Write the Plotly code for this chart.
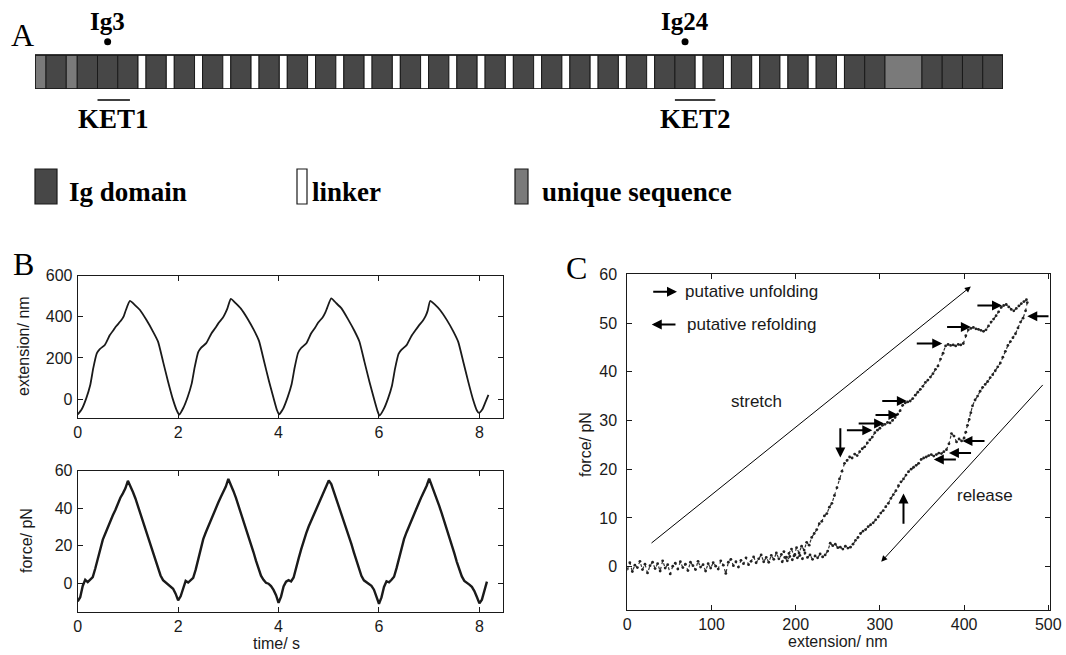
import plotly.graph_objects as go

W, H = 1066, 655

# ---------------- Panel A data ----------------
segments = (['U', 'Ig', 'U', 'Ig', 'Ig', 'Ig'] + ['L', 'Ig'] * 19 + ['Ig'] +
            ['L', 'Ig'] * 6 + ['Ig', 'UB', 'Ig', 'Ig', 'Ig', 'Ig'])
labelled_domains = {3: 'Ig3', 24: 'Ig24'}
fragments = {'KET1': (3, 4), 'KET2': (24, 25)}
legend_items = ['Ig domain', 'linker', 'unique sequence']

# ---------------- Panel B data ----------------
ext_time = [0.00, 0.08, 0.17, 0.25, 0.31, 0.38, 0.44, 0.54, 0.64, 0.72, 0.77, 0.87, 0.92, 0.96, 1.04, 1.14, 1.24, 1.37, 1.50, 1.60, 1.70, 1.80, 1.89, 1.97,
            2.02, 2.10, 2.19, 2.27, 2.33, 2.40, 2.46, 2.56, 2.66, 2.74, 2.80, 2.89, 2.94, 2.98, 3.05, 3.15, 3.25, 3.38, 3.51, 3.61, 3.71, 3.81, 3.90, 3.97,
            4.01, 4.09, 4.18, 4.26, 4.32, 4.39, 4.45, 4.55, 4.65, 4.73, 4.79, 4.88, 4.93, 4.97, 5.05, 5.15, 5.25, 5.38, 5.51, 5.61, 5.71, 5.81, 5.90, 5.97,
            6.01, 6.09, 6.18, 6.26, 6.32, 6.39, 6.45, 6.55, 6.65, 6.73, 6.79, 6.88, 6.93, 6.97, 7.02, 7.12, 7.22, 7.35, 7.48, 7.58, 7.68, 7.78, 7.87, 7.95,
            7.99, 8.06, 8.12, 8.18]
ext_nm = [-75, -50, 3, 68, 150, 222, 243, 263, 311, 338, 355, 384, 405, 433, 477, 457, 433, 384, 328, 279, 182, 84, 3, -54,
          -76, -45, 10, 75, 155, 228, 250, 272, 318, 345, 368, 395, 418, 440, 487, 465, 440, 392, 335, 283, 185, 86, 5, -55,
          -75, -48, 8, 72, 152, 225, 248, 270, 320, 348, 372, 398, 420, 445, 490, 466, 442, 390, 332, 280, 182, 84, 2, -58,
          -81, -52, 2, 66, 148, 220, 240, 262, 308, 336, 356, 383, 404, 430, 477, 458, 432, 385, 329, 277, 180, 82, 0, -56,
          -68, -50, -15, 20]

force_step = 0.05
force_pN = [-9.8, -7.5, -1.5, 1.8, 0.6, 1.9, 3.2, 7.8, 13.5, 18.6, 23.2, 26.5, 30.1, 33.0, 36.2, 39.0, 42.4, 45.6, 47.9, 50.6,
            54.6, 51.8, 48.6, 45.2, 41.0, 37.3, 33.2, 29.1, 25.0, 20.8, 16.1, 11.6, 7.2, 4.1, 1.6, 0.4, -0.6, -1.5, -3.0, -5.6,
            -9.2, -7.0, -2.2, 1.2, 0.3, 1.5, 2.8, 7.2, 13.0, 18.4, 23.5, 27.0, 30.4, 33.6, 36.8, 39.8, 43.0, 46.0, 48.8, 51.5,
            55.6, 52.6, 49.2, 45.6, 41.6, 37.6, 33.8, 29.6, 25.4, 21.0, 16.6, 12.0, 7.5, 4.0, 1.8, 0.2, -0.3, -1.6, -3.6, -6.4,
            -10.5, -7.2, -1.8, 0.8, 1.6, 0.9, 3.0, 7.5, 13.2, 18.0, 22.9, 26.6, 30.2, 33.4, 36.5, 39.6, 42.8, 45.7, 48.4, 51.8,
            54.8, 52.9, 49.0, 45.4, 41.4, 37.5, 33.5, 29.4, 25.2, 20.9, 16.4, 11.8, 7.3, 3.9, 1.5, 0.6, -0.5, -1.4, -3.5, -6.8,
            -11.0, -7.6, -2.0, 1.0, 0.4, 1.8, 3.4, 8.0, 13.6, 18.8, 23.6, 27.2, 30.6, 33.8, 37.0, 40.1, 43.2, 46.3, 49.0, 52.0,
            55.8, 52.4, 48.8, 45.0, 41.2, 37.2, 33.2, 29.0, 24.8, 20.4, 16.0, 11.4, 7.0, 3.6, 1.2, 0.4, -0.8, -2.0, -4.2, -7.4,
            -10.8, -8.8, -4.5, 0.8]
force_time = [round(i * force_step, 2) for i in range(len(force_pN))]

# ---------------- Panel C data ----------------
stretch_x = [0, 3, 6, 9, 12, 15, 18, 21, 24, 27, 30, 33, 36, 39, 42, 45, 48, 51, 54, 57, 60, 63, 66, 69, 72, 75, 78, 81, 84, 87,
             90, 93, 96, 99, 102, 105, 108, 111, 114, 117, 120, 123, 126, 129, 132, 135, 138, 141, 144, 147, 150, 153, 156, 159,
             162, 165, 168, 171, 174, 177, 180, 183, 186, 189, 192, 195, 198, 201, 204, 207, 210, 213, 216, 219, 222, 225, 228,
             231, 234, 237, 240, 243, 246, 249, 252, 255, 258, 261, 264, 267, 270, 273, 276, 279, 282, 285, 288, 291, 294, 297,
             300, 303, 306, 309, 312, 315, 318, 321, 324, 327, 330, 333, 336, 339, 342, 345, 348, 351, 354, 357, 360, 363, 366,
             369, 372, 375, 378, 381, 384, 387, 390, 393, 396, 399, 402, 405, 408, 411, 414, 417, 420, 423, 426, 429, 432, 435,
             438, 441, 444, 447, 450, 453, 456, 459, 462, 465, 468, 471, 474]
stretch_f = [-0.5, 0.8, -1.0, 0.3, -0.2, 1.1, -0.6, 0.5, -1.3, 0.2, 0.9, -0.4, 0.6, -0.9, 1.2, -0.3, 0.4, -1.5, 0.1, 0.7,
             -0.5, 1.0, -0.2, 0.5, -0.8, 0.9, 0.2, -0.6, 1.1, -0.1, 0.4, -0.9, 0.6, -0.3, 0.8, 0.1, -0.5, 1.2, 0.3, -1.4,
             0.9, 1.5, 0.2, 1.0, -0.1, 1.3, 0.6, 1.8, 0.4, 1.1, 2.0, 0.8, 1.6, 2.4, 1.0, 1.9, 0.9, 2.3, 1.5, 2.8,
             1.6, 2.5, 3.1, 1.9, 2.7, 3.6, 2.2, 3.9, 2.8, 4.2, 3.4, 5.0, 4.4, 6.0, 6.8, 7.6, 8.8, 9.3, 10.4, 10.9,
             12.2, 13.0, 14.6, 16.2, 18.0, 19.6, 21.2, 21.8, 22.5, 22.3, 23.1, 22.8, 23.6, 24.2, 24.6, 25.4, 26.0, 26.6, 27.5, 28.0,
             28.4, 29.0, 29.2, 29.6, 29.5, 30.0, 30.6, 31.3, 32.0, 33.1, 33.6, 33.8, 34.0, 34.5, 35.2, 35.8, 36.4, 37.0, 37.8, 38.3,
             38.9, 39.6, 40.5, 41.2, 42.6, 43.8, 45.3, 45.6, 45.4, 45.5, 45.3, 45.6, 45.5, 45.8, 47.4, 48.6, 48.9, 49.1, 48.8, 48.7,
             48.5, 48.3, 48.6, 49.4, 50.2, 50.8, 51.5, 52.3, 53.2, 53.6, 53.8, 53.3, 52.8, 52.5, 53.0, 53.5, 54.0, 54.4, 54.8]
release_x = [475, 473, 470, 467, 464, 461, 458, 455, 452, 449, 446, 443, 440, 437, 434, 431, 428, 425, 422, 419, 416, 413, 410,
             408, 406, 404, 402, 400, 397, 394, 391, 388, 385, 382, 379, 376, 373, 370, 367, 364, 361, 358, 355, 352, 349, 346,
             343, 340, 337, 334, 331, 328, 325, 322, 319, 316, 313, 310, 307, 304, 301, 298, 295, 292, 289, 286, 283, 280, 277,
             274, 271, 268, 265, 262, 259, 256, 253, 250, 247, 244, 241, 238, 235, 232, 229, 226, 223, 220, 217, 214, 211, 208,
             205, 202, 199, 196, 193, 190, 187, 184]
release_f = [54.2, 52.5, 51.0, 50.2, 49.0, 47.8, 47.0, 46.2, 45.4, 44.2, 43.0, 41.8, 41.0, 40.2, 39.4, 38.8, 38.0, 37.4, 36.8,
             36.0, 35.0, 34.2, 33.0, 31.6, 30.2, 29.0, 27.6, 26.4, 25.8, 26.2, 25.6, 26.8, 27.3, 25.2, 24.0, 23.6, 23.2, 23.3,
             23.0, 22.7, 23.0, 22.8, 22.5, 22.3, 22.0, 21.2, 20.8, 20.4, 20.0, 19.5, 18.8, 18.0, 17.4, 16.6, 15.6, 14.8, 14.0,
             13.0, 12.3, 11.5, 11.0, 10.2, 9.6, 9.0, 8.6, 8.2, 7.6, 7.3, 6.8, 6.0, 5.4, 4.6, 4.0, 3.8, 4.2, 3.6, 4.0, 3.9,
             4.6, 4.3, 4.8, 3.2, 2.4, 2.0, 2.6, 1.8, 2.2, 1.5, 2.4, 1.9, 2.8, 1.6, 2.3, 1.8, 2.5, 1.4, 2.1, 1.2, 1.9, 1.0]

# unfolding (right-pointing) and refolding (left-pointing) arrows: (tail_x, head_x, force)
unfold_arrows = [(414, 445, 53.6), (378, 408, 49.2), (342, 374, 45.8), (301, 332, 34.0),
                 (293, 322, 31.1), (273, 305, 29.4), (259, 291, 28.0)]
refold_arrows = [(502, 475, 51.4), (426, 398, 25.8), (410, 382, 23.3), (392, 364, 22.0)]

# ---------------- styles ----------------
seg_width = {'Ig': 20.26, 'L': 8, 'U': 11, 'UB': 37}
seg_color = {'Ig': '#474747', 'L': '#ffffff', 'U': '#7a7a7a', 'UB': '#7a7a7a'}
INK = '#1a1a1a'
SANS = 'Liberation Sans, Arial, sans-serif'
SERIF = 'Liberation Serif, Times New Roman, serif'


def px(p):
    return p / W


def py(p):
    return 1 - p / H


fig = go.Figure()

# ---- Panel A bar ----
starts, widths, colors = [], [], []
pos = 0
ig_pos = {}
ig_count = 0
for s in segments:
    w = seg_width[s]
    starts.append(pos)
    widths.append(w)
    colors.append(seg_color[s])
    if s == 'Ig':
        ig_count += 1
        ig_pos[ig_count] = (pos, pos + w)
    pos += w
total_len = pos

fig.add_trace(go.Bar(x=widths, y=[0] * len(widths), base=starts, orientation='h',
                     marker=dict(color=colors, line=dict(color=INK, width=1)),
                     width=1, xaxis='x4', yaxis='y4', showlegend=False, hoverinfo='skip'))

dot_x = [(ig_pos[k][0] + ig_pos[k][1]) / 2 for k in labelled_domains]
fig.add_trace(go.Scatter(x=dot_x, y=[0.89] * len(dot_x), mode='markers',
                         marker=dict(color='black', size=7), cliponaxis=False,
                         xaxis='x4', yaxis='y4', showlegend=False, hoverinfo='skip'))

annotations = []
shapes = [dict(type='rect', xref='x4', yref='y4', x0=0, x1=total_len, y0=-0.5, y1=0.5,
               line=dict(color=INK, width=1.6), fillcolor='rgba(0,0,0,0)')]
for k, name in labelled_domains.items():
    cx = (ig_pos[k][0] + ig_pos[k][1]) / 2
    annotations.append(dict(x=cx, y=py(22), xref='x4', yref='paper', text='<b>%s</b>' % name,
                            showarrow=False, font=dict(family=SERIF, size=25, color='black'),
                            xanchor='center', yanchor='middle'))
for name, (a, b) in fragments.items():
    x0 = ig_pos[a][0]
    x1 = ig_pos[b][0] + 0.6 * (ig_pos[b][1] - ig_pos[b][0])
    shapes.append(dict(type='line', xref='x4', yref='paper', x0=x0, x1=x1, y0=py(100), y1=py(100),
                       line=dict(color='black', width=1.5)))
    annotations.append(dict(x=(x0 + x1) / 2, y=py(119), xref='x4', yref='paper', text='<b>%s</b>' % name,
                            showarrow=False, font=dict(family=SERIF, size=27, color='black'),
                            xanchor='center', yanchor='middle'))

# legend of panel A
leg_boxes = [(35, 57, seg_color['Ig'], 67), (297, 307, seg_color['L'], 310), (515, 528, seg_color['U'], 540)]
for (x0, x1, col, tx), label in zip(leg_boxes, legend_items):
    shapes.append(dict(type='rect', xref='paper', yref='paper', x0=px(x0), x1=px(x1), y0=py(204), y1=py(169),
                       fillcolor=col, line=dict(color=INK, width=1.2)))
    annotations.append(dict(x=px(tx), y=py(192), xref='paper', yref='paper', text='<b>%s</b>' % label,
                            showarrow=False, font=dict(family=SERIF, size=27, color='black'),
                            xanchor='left', yanchor='middle'))

# ---- Panel B traces ----
fig.add_trace(go.Scatter(x=ext_time, y=ext_nm, mode='lines', line=dict(color=INK, width=1.8, shape='spline', smoothing=0.5),
                         xaxis='x', yaxis='y', showlegend=False))
fig.add_trace(go.Scatter(x=force_time, y=force_pN, mode='lines', line=dict(color=INK, width=2.4),
                         xaxis='x2', yaxis='y2', showlegend=False))

# ---- Panel C traces ----
for xs, ys in [(stretch_x, stretch_f), (release_x, release_f)]:
    fig.add_trace(go.Scatter(x=xs, y=ys, mode='lines+markers',
                             line=dict(color='#333333', width=1.2, dash='dot'),
                             marker=dict(color='#222222', size=2.8),
                             xaxis='x3', yaxis='y3', showlegend=False))


def arrow(x, y, ax, ay, width=2, size=1.0, head=2):
    return dict(x=x, y=y, ax=ax, ay=ay, xref='x3', yref='y3', axref='x3', ayref='y3', text='',
                showarrow=True, arrowhead=head, arrowsize=size, arrowwidth=width, arrowcolor='black')


for t, h, f in unfold_arrows:
    annotations.append(arrow(h, f, t, f))
for t, h, f in refold_arrows:
    annotations.append(arrow(h, f, t, f))
annotations.append(arrow(253, 22.4, 253, 28.7))   # down arrow
annotations.append(arrow(328, 15.0, 328, 8.5))    # up arrow
annotations.append(arrow(59, 56.4, 29, 56.4))     # legend unfolding
annotations.append(arrow(29, 49.7, 59, 49.7))     # legend refolding
annotations.append(arrow(408, 57.5, 27, 4.6, width=1, size=1.2))   # stretch direction
annotations.append(arrow(301.6, 1.0, 495, 37.6, width=1, size=1.2))  # release direction

for txt, x, y, anchor in [('putative unfolding', 66, 56.4, 'left'), ('putative refolding', 68, 49.7, 'left'),
                          ('stretch', 154, 33.9, 'center'), ('release', 425, 14.7, 'center')]:
    annotations.append(dict(x=x, y=y, xref='x3', yref='y3', text=txt, showarrow=False,
                            font=dict(family=SANS, size=17, color=INK), xanchor=anchor, yanchor='middle'))

# axis titles & panel letters
for txt, x, y, ang in [('extension/ nm', 24, 346, -90), ('force/ pN', 26, 541, -90), ('time/ s', 276, 643, 0),
                       ('force/ pN', 585, 445, -90), ('extension/ nm', 838, 641, 0)]:
    annotations.append(dict(x=px(x), y=py(y), xref='paper', yref='paper', text=txt, showarrow=False,
                            textangle=ang, font=dict(family=SANS, size=16, color=INK),
                            xanchor='center', yanchor='middle'))
for txt, x, y in [('A', 22, 35), ('B', 23, 264), ('C', 576, 268)]:
    annotations.append(dict(x=px(x), y=py(y), xref='paper', yref='paper', text=txt, showarrow=False,
                            font=dict(family=SERIF, size=32, color='black'), xanchor='center', yanchor='middle'))


def axstyle(**kw):
    d = dict(showline=True, linecolor=INK, linewidth=1, mirror='allticks', ticks='inside', ticklen=5,
             tickcolor=INK, showgrid=False, zeroline=False, automargin=False,
             tickfont=dict(family=SANS, size=16, color=INK))
    d.update(kw)
    return d


fig.update_layout(
    width=W, height=H, margin=dict(l=0, r=0, t=0, b=0),
    paper_bgcolor='white', plot_bgcolor='white', showlegend=False,
    xaxis=axstyle(domain=[px(77.7), px(503)], range=[0, 8.47], tickvals=[0, 2, 4, 6, 8], anchor='y'),
    yaxis=axstyle(domain=[py(417.7), py(275.7)], range=[-91, 600], tickvals=[0, 200, 400, 600], anchor='x',
                  ticklabelstandoff=1),
    xaxis2=axstyle(domain=[px(77.7), px(503)], range=[0, 8.47], tickvals=[0, 2, 4, 6, 8], anchor='y2'),
    yaxis2=axstyle(domain=[py(612), py(470.7)], range=[-15.4, 60], tickvals=[0, 20, 40, 60], anchor='x2',
                   ticklabelstandoff=1),
    xaxis3=axstyle(domain=[px(627.3), px(1050)], range=[0, 502], tickvals=[0, 100, 200, 300, 400, 500], anchor='y3'),
    yaxis3=axstyle(domain=[py(610), py(274.3)], range=[-8.9, 60], tickvals=[0, 10, 20, 30, 40, 50, 60], anchor='x3',
                   ticklabelstandoff=6),
    xaxis4=dict(domain=[px(35), px(1003)], range=[0, total_len], visible=False, anchor='y4', fixedrange=True),
    yaxis4=dict(domain=[py(89), py(36)], range=[-0.5, 1.06], visible=False, anchor='x4', fixedrange=True),
    annotations=annotations, shapes=shapes,
)

fig.write_html('out.html', config={'displayModeBar': False},
               post_script="document.body.style.margin='0';document.body.style.overflow='hidden';")
